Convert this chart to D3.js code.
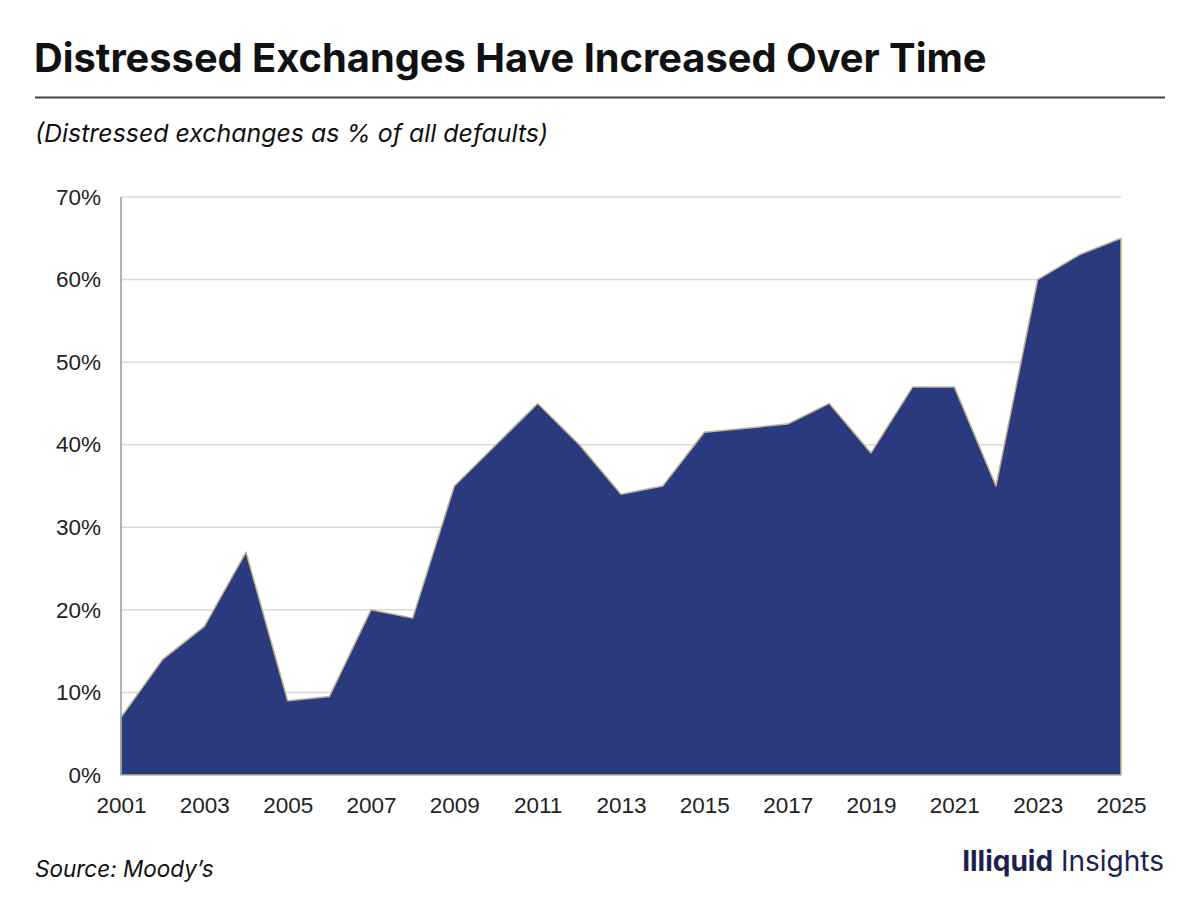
<!DOCTYPE html>
<html>
  <meta charset="utf-8" />
  <head>
    <script src="https://cdnjs.cloudflare.com/ajax/libs/d3/7.8.5/d3.min.js"></script>
    <style>
      body { margin: 0; background: #fff; }
    </style>
  </head>
  <body>
    <script>
    const years = [2001, 2002, 2003, 2004, 2005, 2006, 2007, 2008, 2009, 2010, 2011, 2012, 2013,
                   2014, 2015, 2016, 2017, 2018, 2019, 2020, 2021, 2022, 2023, 2024, 2025];
    const sharePct = [7, 14, 18, 27, 9, 9.5, 20, 19, 35, 40, 45, 40, 34,
                      35, 41.5, 42, 42.5, 45, 39, 47, 47, 35, 60, 63, 65];
    const yTicks = [0, 10, 20, 30, 40, 50, 60, 70];
    const xTicks = [2001, 2003, 2005, 2007, 2009, 2011, 2013, 2015, 2017, 2019, 2021, 2023, 2025];

    const width = 1200, height = 900;
    const margin = { top: 197, right: 79, bottom: 125, left: 121 };

    const svg = d3
        .select("body")
        .append("svg")
        .attr("width", width)
        .attr("height", height);

    // header
    svg.append("text")
        .attr("x", 34)
        .attr("y", 72)
        .attr("font-family", "Inter, sans-serif")
        .attr("font-weight", "bold")
        .attr("font-size", "39.8px")
        .attr("fill", "#111")
        .text("Distressed Exchanges Have Increased Over Time");

    svg.append("line")
        .attr("x1", 35).attr("x2", 1165)
        .attr("y1", 97.5).attr("y2", 97.5)
        .attr("stroke", "#444")
        .attr("stroke-width", 2);

    svg.append("text")
        .attr("x", 35)
        .attr("y", 142)
        .attr("font-family", "Inter, sans-serif")
        .attr("font-style", "italic")
        .attr("font-size", "24.9px")
        .attr("fill", "#111")
        .text("(Distressed exchanges as % of all defaults)");

    const x = d3.scaleLinear()
        .domain([2001, 2025])
        .range([margin.left, width - margin.right]);

    const y = d3.scaleLinear()
        .domain([0, 70])
        .range([height - margin.bottom, margin.top]);

    // gridlines
    svg.append("g")
        .selectAll("line")
        .data(yTicks.filter(d => d > 0))
        .join("line")
        .attr("x1", x(2001)).attr("x2", x(2025))
        .attr("y1", d => y(d)).attr("y2", d => y(d))
        .attr("stroke", "#d9d9d9")
        .attr("stroke-width", 1.5);

    const area = d3.area()
        .x((d, i) => x(years[i]))
        .y0(y(0))
        .y1(d => y(d));

    svg.append("path")
        .datum(sharePct)
        .attr("d", area)
        .attr("fill", "#2b3a7f")
        .attr("stroke", "#bdb58c")
        .attr("stroke-width", 1.5)
        .attr("stroke-linejoin", "round");

    // left axis line
    svg.append("line")
        .attr("x1", x(2001)).attr("x2", x(2001))
        .attr("y1", y(70)).attr("y2", y(0))
        .attr("stroke", "#999")
        .attr("stroke-width", 1.5);

    const yAxis = d3.axisLeft(y)
        .tickValues(yTicks)
        .tickSize(0)
        .tickPadding(20)
        .tickFormat(d => d + "%");

    svg.append("g")
        .attr("transform", `translate(${x(2001)},0)`)
        .call(yAxis)
        .call(g => g.select(".domain").remove())
        .selectAll("text")
        .attr("font-family", "'Liberation Sans', Arial, sans-serif")
        .attr("font-size", "22.5px")
        .attr("fill", "#222");

    const xAxis = d3.axisBottom(x)
        .tickValues(xTicks)
        .tickSize(0)
        .tickPadding(22)
        .tickFormat(d3.format("d"));

    svg.append("g")
        .attr("transform", `translate(0,${y(0)})`)
        .call(xAxis)
        .call(g => g.select(".domain").remove())
        .selectAll("text")
        .attr("font-family", "'Liberation Sans', Arial, sans-serif")
        .attr("font-size", "22.5px")
        .attr("fill", "#222");

    // footer
    svg.append("text")
        .attr("x", 35)
        .attr("y", 877)
        .attr("font-family", "Inter, sans-serif")
        .attr("font-style", "italic")
        .attr("font-size", "22.5px")
        .attr("fill", "#111")
        .text("Source: Moody\u2019s");

    const brand = svg.append("text")
        .attr("x", 1164)
        .attr("y", 871)
        .attr("text-anchor", "end")
        .attr("font-family", "Inter, sans-serif")
        .attr("font-size", "28px")
        .attr("fill", "#1b2252");
    brand.append("tspan").attr("font-weight", "bold").text("Illiquid");
    brand.append("tspan").text(" Insights");
</script>
</body>
</html>
